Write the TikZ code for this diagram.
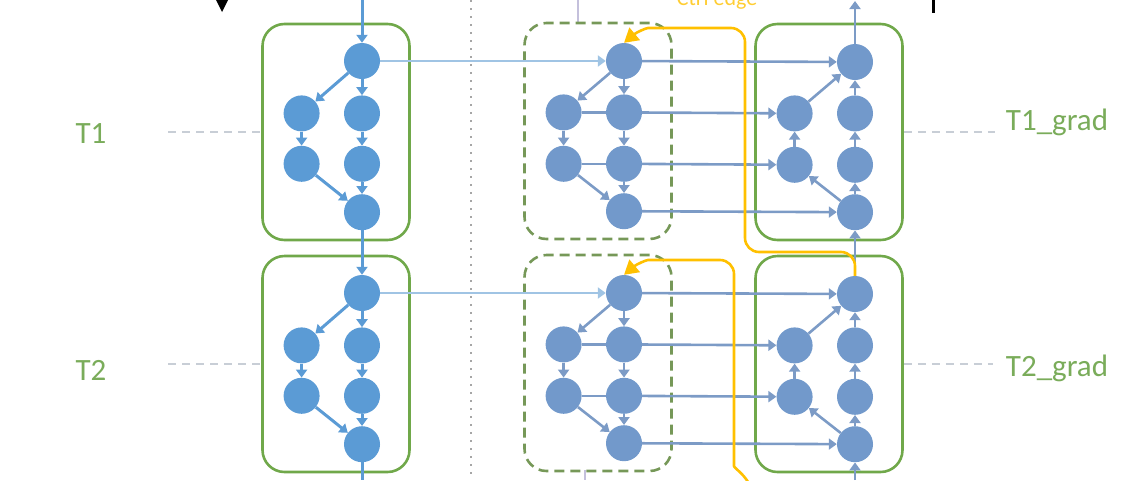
\documentclass[tikz,border=0pt]{standalone}
\usepackage{fontspec}
\setmainfont{Carlito}
\usepackage{xcolor}
\usetikzlibrary{arrows.meta, positioning}
\definecolor{fwdblu}{RGB}{91,155,213}
\definecolor{bwdblu}{RGB}{114,153,203}
\definecolor{lineblu}{RGB}{124,155,198}
\definecolor{lightblu}{RGB}{160,196,228}
\definecolor{boxgreen}{RGB}{112,168,74}
\definecolor{dashgreen}{RGB}{118,152,88}
\definecolor{labgreen}{RGB}{122,172,90}
\definecolor{ctrlyel}{RGB}{255,192,0}
\definecolor{guidegray}{RGB}{200,206,214}
\definecolor{stubgray}{RGB}{196,192,220}

\begin{document}
\begin{tikzpicture}[x=1pt, y=-1pt,
    nodo/.style={circle, minimum size=36pt, inner sep=0pt},
    fwd/.style={nodo, fill=fwdblu},
    bwd/.style={nodo, fill=bwdblu},
    freccia/.style={-{Triangle[width=11pt, length=8pt]}},
    fedge/.style={freccia, draw=fwdblu, line width=3pt},
    bedge/.style={freccia, draw=lineblu, line width=2.6pt},
    bline/.style={draw=lineblu, line width=2.6pt},
    xedge/.style={freccia, draw=lightblu, line width=2.4pt},
    tbox/.style={draw=boxgreen, line width=2.6pt, rounded corners=22pt,
        minimum width=147pt, minimum height=216pt, inner sep=0pt},
    dbox/.style={tbox, draw=dashgreen, dash pattern=on 10pt off 6pt},
    guida/.style={draw=guidegray, line width=2pt, dash pattern=on 8pt off 6pt},
    ctrl/.style={draw=ctrlyel, line width=2.6pt, rounded corners=14pt,
        -{Triangle[width=16pt, length=14pt]}},
    etich/.style={text=labgreen, font=\fontsize{31}{36}\selectfont, anchor=base}
]
    \useasboundingbox (0,0) rectangle (1131,480);
    \clip (0,0) rectangle (1131,480);
    % Parametri
    \pgfmathsetmacro{\xf}{362}
    \pgfmathsetmacro{\xm}{624}
    \pgfmathsetmacro{\xg}{855}
    % separatore
    \draw[gray!70, line width=1.5pt, dash pattern=on 1.5pt off 6.5pt] (471,0) -- (471,480);
    \draw[stubgray, line width=2pt] (578,0) -- (578,23);
    \draw[stubgray, line width=2pt] (585,470) -- (585,480);
    % segni neri
    \fill[black] (216,0) -- (228,0) -- (222,12) -- cycle;
    \draw[black, line width=3pt] (933,0) -- (933,13);
    % passi
    \foreach \t/\yo in {1/61,2/293} {
        \pgfmathsetmacro{\yg}{\yo+1}
        % box
        \node[tbox] (fbox\t) at ({\xf-26},{\yo+71}) {};
        \node[dbox] (mbox\t) at ({\xm-26},{\yo+70}) {};
        \node[tbox] (gbox\t) at ({\xg-26},{\yg+70}) {};
        % forward
        \node[fwd] (fa\t) at (\xf,\yo) {};
        \node[fwd, below=16pt of fa\t] (fc\t) {};
        \node[fwd, left=24pt of fc\t] (fb\t) {};
        \node[fwd, below=14pt of fc\t] (fe\t) {};
        \node[fwd, left=24pt of fe\t] (fd\t) {};
        \node[fwd, below=12pt of fe\t] (ff\t) {};
        \draw[fedge] (fa\t) -- (fb\t);
        \draw[fedge] (fa\t) -- (fc\t);
        \draw[fedge] (fb\t) -- (fd\t);
        \draw[fedge] (fc\t) -- (fe\t);
        \draw[fedge] (fd\t) -- (ff\t);
        \draw[fedge] (fe\t) -- (ff\t);
        % copia
        \node[bwd] (ma\t) at (\xm,\yo) {};
        \node[bwd, below=15pt of ma\t] (mc\t) {};
        \node[bwd, left=24pt of mc\t] (mb\t) {};
        \node[bwd, below=15pt of mc\t] (me\t) {};
        \node[bwd, left=24pt of me\t] (md\t) {};
        \node[bwd, below=11pt of me\t] (mf\t) {};
        \draw[bedge] (ma\t) -- (mb\t);
        \draw[bedge] (ma\t) -- (mc\t);
        \draw[bedge] (mb\t) -- (md\t);
        \draw[bedge] (mc\t) -- (me\t);
        \draw[bedge] (md\t) -- (mf\t);
        \draw[bedge] (me\t) -- (mf\t);
        \draw[bline] (mb\t) -- (mc\t);
        \draw[bline] (md\t) -- (me\t);
        % grad
        \node[bwd] (ga\t) at (\xg,\yg) {};
        \node[bwd, below=15pt of ga\t] (gc\t) {};
        \node[bwd, left=24pt of gc\t] (gb\t) {};
        \node[bwd, below=15pt of gc\t] (ge\t) {};
        \node[bwd, left=24pt of ge\t] (gd\t) {};
        \node[bwd, below=11pt of ge\t] (gf\t) {};
        \draw[bedge] (gf\t) -- (ge\t);
        \draw[bedge] (ge\t) -- (gc\t);
        \draw[bedge] (gc\t) -- (ga\t);
        \draw[bedge] (gf\t) -- (gd\t);
        \draw[bedge] (gd\t) -- (gb\t);
        \draw[bedge] (gb\t) -- (ga\t);
        % collegamenti
        \draw[xedge] (fa\t) -- (ma\t);
        \draw[bedge] (ma\t) -- (ga\t);
        \draw[bedge] (mc\t) -- (gb\t);
        \draw[bedge] (me\t) -- (gd\t);
        \draw[bedge] (mf\t) -- (gf\t);
    }
    % tra i passi
    \coordinate (fin) at (\xf,0);
    \coordinate (fout) at (\xf,480);
    \coordinate (gin) at (\xg,480);
    \coordinate (gout) at (\xg,1);
    \draw[fedge] (fin) -- (fa1);
    \draw[fedge] (ff1) -- (fa2);
    \draw[fwdblu, line width=3pt] (ff2) -- (fout);
    \draw[bedge] (gin) -- (gf2);
    \draw[bedge] (ga2) -- (gf1);
    \draw[bedge] (ga1) -- (gout);
    % ctrl edge
    \coordinate (c2in) at (752,490);
    \draw[ctrl] (ga2.north) -- (\xg,252) -- (745,252) -- (745,28) -- (662,28)
        to[out=180, in=40] (ma1.north);
    \draw[ctrl] (c2in) to[out=110, in=-90] (734,452) -- (734,260) -- (662,260)
        to[out=180, in=40] (ma2.north);
    \node[text=ctrlyel!80, font=\fontsize{22}{26}\selectfont, anchor=base] (ctrl) at (717,5) {Ctrl edge};
    % etichette
    \node[etich] (t1) at (91,143) {T1};
    \node[etich] (t2) at (91,380) {T2};
    \node[etich] (t1g) at (1057,130) {T1\_grad};
    \node[etich] (t2g) at (1057,376) {T2\_grad};
    \coordinate (l1) at (168,132);
    \coordinate (l2) at (168,364);
    \coordinate (r1) at (995,132);
    \coordinate (r2) at (993,364);
    \draw[guida] (l1) -- (fbox1.west);
    \draw[guida] (l2) -- (fbox2.west);
    \draw[guida] (gbox1.east) -- (r1);
    \draw[guida] (gbox2.east) -- (r2);
\end{tikzpicture}
\end{document}
